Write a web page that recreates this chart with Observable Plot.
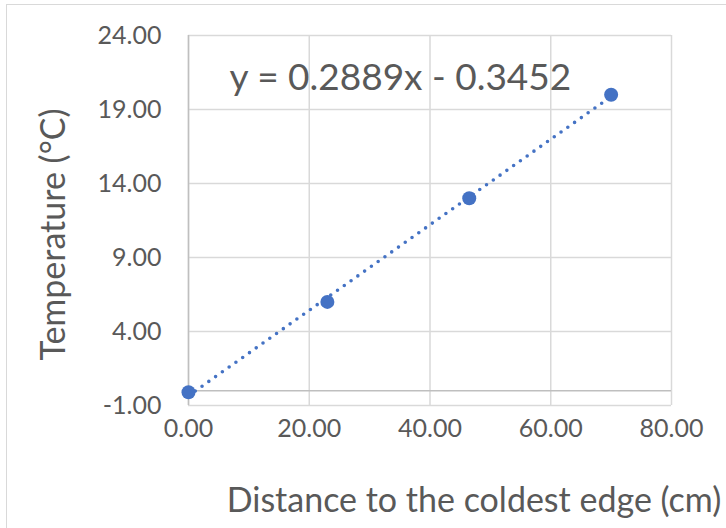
<!DOCTYPE html>
<html>
<head>
<meta charset="utf-8">
<script src="https://cdn.jsdelivr.net/npm/d3@7"></script>
<script src="https://cdn.jsdelivr.net/npm/@observablehq/plot@0.6"></script>
<style>
  html, body { margin: 0; padding: 0; background: #fff; }
  #chart { position: relative; width: 726px; height: 528px; overflow: hidden; }
  #chart svg { display: block; }
  .frame { position: absolute; left: 6px; top: 4px; width: 760px; height: 560px;
           border: 1.5px solid #d9d9d9; box-sizing: border-box; pointer-events: none; }
</style>
</head>
<body>
<div id="chart"><div class="frame"></div></div>
<script>
// Measured temperatures along the bar
const distance = [0, 23, 46.5, 70];          // cm from the coldest edge
const temperature = [-0.1, 6.0, 13.0, 20.0]; // °C

// Linear trend line coefficients
const slope = [0.2889];
const intercept = [-0.3452];

// Axis ticks
const xTicks = [0, 20, 40, 60, 80];
const yTicks = [-1, 4, 9, 14, 19, 24];

const xTitle = "Distance to the coldest edge (cm)";
const yTitle = "Temperature (°C)";

const points = distance.map((d, i) => ({x: d, y: temperature[i]}));
const m = slope[0], b = intercept[0];
const trend = [d3.min(distance), d3.max(distance)].map(x => ({x, y: m * x + b}));
const equation = `y = ${m.toFixed(4)}x ${b < 0 ? "-" : "+"} ${Math.abs(b).toFixed(4)}`;
const fmt = d => d.toFixed(2); // plain hyphen for negatives

const blue = "#4472C4";
const gray = "#595959";
const font = "Lato, 'Open Sans', sans-serif";

const plot = Plot.plot({
  width: 726,
  height: 528,
  marginLeft: 188,
  marginRight: 55,
  marginTop: 35,
  marginBottom: 123,
  style: {fontFamily: font, color: gray, background: "transparent", overflow: "visible"},
  x: {domain: [0, 80], ticks: xTicks},
  y: {domain: [-1, 24], ticks: yTicks},
  marks: [
    Plot.gridX(xTicks, {stroke: "#d9d9d9", strokeOpacity: 1, strokeWidth: 1.5}),
    Plot.gridY(yTicks, {stroke: "#d9d9d9", strokeOpacity: 1, strokeWidth: 1.5}),
    Plot.ruleY([0], {stroke: "#bfbfbf", strokeWidth: 1.5}),
    Plot.ruleX([0], {stroke: "#bfbfbf", strokeWidth: 1.5}),
    Plot.axisX(xTicks, {tickSize: 0, tickPadding: 14, tickFormat: fmt,
      fontSize: 25, fill: gray, label: null}),
    Plot.axisY(yTicks, {tickSize: 0, tickPadding: 27, tickFormat: fmt,
      fontSize: 25, fill: gray, label: null}),
    Plot.line(trend, {x: "x", y: "y", stroke: blue, strokeWidth: 3.6,
      strokeDasharray: "0 8.3", strokeLinecap: "round"}),
    Plot.dot(points, {x: "x", y: "y", r: 7, fill: blue, stroke: "none"}),
    Plot.text([equation], {frameAnchor: "top-left", textAnchor: "start", lineAnchor: "top",
      dx: 41, dy: 28, fontSize: 37, fill: gray}),
    Plot.text([yTitle], {frameAnchor: "left", textAnchor: "middle", rotate: -90,
      dx: -134, dy: 14, fontSize: 34, fill: gray}),
    Plot.text([xTitle], {frameAnchor: "bottom", dx: 44, dy: 106, fontSize: 34, fill: gray})
  ]
});

document.getElementById("chart").prepend(plot);
</script>
</body>
</html>
